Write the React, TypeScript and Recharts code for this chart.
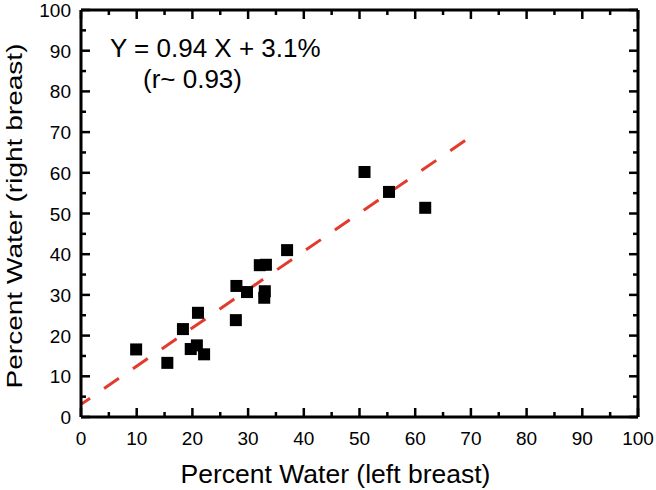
import React from 'react';
import { ScatterChart, Scatter, XAxis, YAxis, ReferenceLine } from 'recharts';

const xValues = [9.9, 15.5, 18.3, 19.7, 20.8, 21.0, 22.1, 27.8, 27.9, 29.8, 32.1, 33.2, 33.0, 32.9, 37.0, 50.9, 55.3, 61.8];
const yValues = [16.6, 13.3, 21.6, 16.7, 17.6, 25.6, 15.4, 23.8, 32.2, 30.7, 37.3, 37.4, 30.9, 29.3, 41.0, 60.2, 55.3, 51.4];
const fitX = [0, 70];
const fitY = [3.1, 68.9];
const axisTicks = [0, 5, 10, 15, 20, 25, 30, 35, 40, 45, 50, 55, 60, 65, 70, 75, 80, 85, 90, 95, 100];
const xTitle = 'Percent Water (left breast)';
const yTitle = 'Percent Water (right breast)';
const fitText = 'Y = 0.94 X + 3.1%';
const rText = '(r~ 0.93)';

const points = xValues.map((x, i) => ({ x, y: yValues[i] }));
const segment = fitX.map((x, i) => ({ x, y: fitY[i] }));

const FONT = '"Liberation Sans", Arial, sans-serif';
const MAJ = 9;
const MIN = 5;
const TW = 2.5;
const isMajor = (v: number) => v % 10 === 0;

const BottomTick = (p: any) => {
  const { x, y, payload } = p;
  const v = payload.value;
  const len = isMajor(v) ? MAJ : MIN;
  return (
    <g>
      <path d={`M${x},${y}L${x},${y - len}`} stroke="#000" strokeWidth={TW} fill="none" />
      {isMajor(v) ? (
        <text x={x} y={y + 28} textAnchor="middle" fontSize={19} fill="#000" fontFamily={FONT}>
          {v}
        </text>
      ) : null}
    </g>
  );
};

const TopTick = (p: any) => {
  const { x, y, payload } = p;
  const len = isMajor(payload.value) ? MAJ : MIN;
  return <path d={`M${x},${y}L${x},${y + len}`} stroke="#000" strokeWidth={TW} fill="none" />;
};

const LeftTick = (p: any) => {
  const { x, y, payload } = p;
  const v = payload.value;
  const len = isMajor(v) ? MAJ : MIN;
  return (
    <g>
      <path d={`M${x},${y}L${x + len},${y}`} stroke="#000" strokeWidth={TW} fill="none" />
      {isMajor(v) ? (
        <text x={x - 10} y={y + 7} textAnchor="end" fontSize={19} fill="#000" fontFamily={FONT}>
          {v}
        </text>
      ) : null}
    </g>
  );
};

const RightTick = (p: any) => {
  const { x, y, payload } = p;
  const len = isMajor(payload.value) ? MAJ : MIN;
  return <path d={`M${x},${y}L${x - len},${y}`} stroke="#000" strokeWidth={TW} fill="none" />;
};

const SquareShape = (p: any) => {
  const { cx, cy } = p;
  return <rect x={cx - 6} y={cy - 6} width={12} height={12} fill="#000" />;
};

const axisLine = { stroke: '#000', strokeWidth: 3 };

export default function App() {
  return (
    <div style={{ position: 'absolute', left: 0, top: 0, width: 656, height: 490, background: '#fff' }}>
      <ScatterChart width={656} height={490} margin={{ top: 0, right: 0, bottom: 0, left: 0 }}>
        <XAxis
          xAxisId="b"
          type="number"
          dataKey="x"
          domain={[0, 100]}
          ticks={axisTicks}
          interval={0}
          height={73}
          tickSize={0}
          tickMargin={0}
          tickLine={false}
          axisLine={axisLine}
          tick={(p: any) => <BottomTick {...p} />}
        />
        <XAxis
          xAxisId="t"
          orientation="top"
          type="number"
          dataKey="x"
          domain={[0, 100]}
          ticks={axisTicks}
          interval={0}
          height={10}
          tickSize={0}
          tickMargin={0}
          tickLine={false}
          axisLine={axisLine}
          tick={(p: any) => <TopTick {...p} />}
        />
        <YAxis
          yAxisId="l"
          type="number"
          dataKey="y"
          domain={[0, 100]}
          ticks={axisTicks}
          interval={0}
          width={81}
          tickSize={0}
          tickMargin={0}
          tickLine={false}
          axisLine={axisLine}
          tick={(p: any) => <LeftTick {...p} />}
        />
        <YAxis
          yAxisId="r"
          orientation="right"
          type="number"
          dataKey="y"
          domain={[0, 100]}
          ticks={axisTicks}
          interval={0}
          width={18}
          tickSize={0}
          tickMargin={0}
          tickLine={false}
          axisLine={axisLine}
          tick={(p: any) => <RightTick {...p} />}
        />
        <ReferenceLine
          xAxisId="b"
          yAxisId="l"
          segment={segment}
          stroke="#e23b2e"
          strokeWidth={3}
          strokeDasharray="18 17"
          strokeDashoffset={7}
        />
        <Scatter
          xAxisId="b"
          yAxisId="l"
          data={points}
          shape={(p: any) => <SquareShape {...p} />}
          isAnimationActive={false}
        />
        <Scatter xAxisId="t" yAxisId="r" data={points} shape={() => <g />} isAnimationActive={false} />
      </ScatterChart>
      <svg width={656} height={490} style={{ position: 'absolute', left: 0, top: 0, pointerEvents: 'none' }}>
        <text x={110} y={57} fontSize={26} fill="#000" fontFamily={FONT}>
          {fitText}
        </text>
        <text x={143} y={88} fontSize={26} fill="#000" fontFamily={FONT}>
          {rText}
        </text>
        <text x={335.5} y={483} textAnchor="middle" fontSize={26.5} fill="#000" fontFamily={FONT}>
          {xTitle}
        </text>
        <text
          x={0}
          y={0}
          transform="translate(22, 216) rotate(-90)"
          textAnchor="middle"
          fontSize={22.5}
          textLength={345}
          lengthAdjust="spacingAndGlyphs"
          fill="#000"
          fontFamily={FONT}
        >
          {yTitle}
        </text>
      </svg>
    </div>
  );
}
